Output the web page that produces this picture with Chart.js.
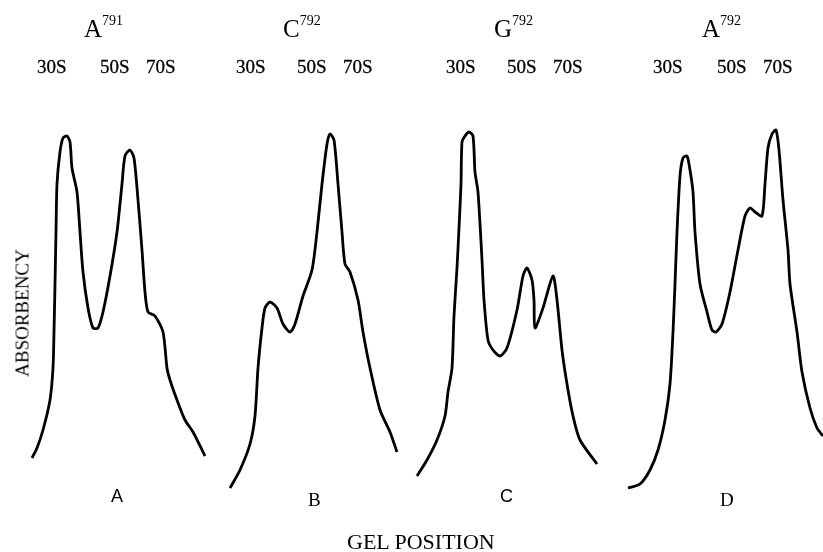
<!DOCTYPE html>
<html>
<head>
<meta charset="utf-8">
<script src="https://cdn.jsdelivr.net/npm/chart.js@4"></script>
<style>
body{margin:0;background:#fff;}
#wrap{position:relative;width:823px;height:552px;font-family:"Liberation Serif","DejaVu Serif",serif;color:#000;}
.t{position:absolute;white-space:nowrap;line-height:1;}
.ttl{font-size:25px;}
.ttl sup{font-size:14px;position:relative;top:-3px;}
.peak{font-size:19px;-webkit-text-stroke:0.3px #000;}
.lbl{font-size:19px;}
.sans{font-family:"Liberation Sans","DejaVu Sans",sans-serif;font-size:18px;}
.big{font-size:22px;}
</style>
</head>
<body>
<div id="wrap">
<canvas id="c" width="823" height="552"></canvas>
</div>
<script>
// gel position (arbitrary units) and absorbency (arbitrary units)
const panels=["A","B","C","D"];
const mutants=[["A","791"],["C","792"],["G","792"],["A","792"]];
const peakNames=["30S","50S","70S"];

const posA=[32,37,43,50,53,54,55,56,57,60,63,67,70,72,77,80,83,88,93,98,103,110,117,122,125,130,134,138,142,145,148,155,163,167,170,177,185,193,205];
const absA=[10.5,13,17.5,25,33,42,54,67,79,87,90.5,91,89.5,83,77,67,57,48,43,43,47,56,67,79,86,87.5,85.5,75,62.5,52,47,46,42,33,30,25,20,17,11];

const posB=[230,240,250,255,258,262,265,270,277,283,290,295,303,312,317,322,327,330,334,338,342,345,350,358,363,370,380,390,397];
const absB=[3,7.5,14,21,33,43,48,49.5,48,44,42,44,51,57.5,67,79,89,91.5,90,79,67,59,57,50,42,33,22.5,17,12];

const posC=[417,427,437,445,448,452,454,457,459,461,462,465,469,473,475,478,482,484,488,493,500,507,517,523,527,532,534,535,543,553,557,562,567,573,580,597];
const absC=[6,10,15,21,27,33,46,58,68,79,89.5,91,92,91,82,77,60,50,40,37.5,36,38,47.5,56,58,55,50,43,48,56,50,37.5,29,21,15,9];

const posD=[628,640,650,658,665,670,673,675,677,680,683,687,690,693,695,700,707,712,716,722,730,738,745,750,755,762,765,768,772,776,779,783,788,790,797,802,810,817,823];
const absD=[3,4,7.5,12.5,20,29,42,54,67,81,85.5,86,82.5,77,67,54,47,42.5,42,44,52,62.5,71,73,72,71,79,88,91.5,92.5,87.5,75,62.5,54,42,32,23,18,16];

const toPts=(xs,ys)=>xs.map((x,i)=>({x:x,y:ys[i]}));
const mk=(xs,ys)=>({data:toPts(xs,ys),borderColor:'#000',borderWidth:2.8,pointRadius:0,tension:0.25,fill:false});

new Chart(document.getElementById("c").getContext("2d"),{
    type:'line',
    data:{datasets:[mk(posA,absA),mk(posB,absB),mk(posC,absC),mk(posD,absD)]},
    options:{
        responsive:false,animation:false,
        layout:{padding:0},
        plugins:{legend:{display:false},tooltip:{enabled:false}},
        scales:{
            x:{type:'linear',min:0,max:823,display:false},
            y:{min:-13,max:125,display:false}
        }
    }
});

// text overlays
const wrap=document.getElementById("wrap");
function put(cls,html,left,top,extra){
    const d=document.createElement("div");
    d.className="t "+cls;d.innerHTML=html;
    d.style.left=left+"px";d.style.top=top+"px";
    if(extra) Object.assign(d.style,extra);
    wrap.appendChild(d);
    return d;
}
const titleX=[84,283,494,702];
mutants.forEach((m,i)=>put("ttl",m[0]+"<sup>"+m[1]+"</sup>",titleX[i],16));
const peakX=[[37,100,146],[236,297,343],[446,507,553],[653,717,763]];
peakX.forEach(row=>row.forEach((x,j)=>put("peak",peakNames[j],x,57)));
const panelX=[111,308,500,720];
const panelCls=["lbl sans","lbl","lbl sans","lbl"];
panels.forEach((p,i)=>put(panelCls[i],p,panelX[i],i%2?490:487));
put("lbl big","GEL POSITION",347,531);
put("lbl","ABSORBENCY",22,313,{transform:"translate(-50%,-50%) rotate(-90deg)"});
</script>
</body>
</html>
